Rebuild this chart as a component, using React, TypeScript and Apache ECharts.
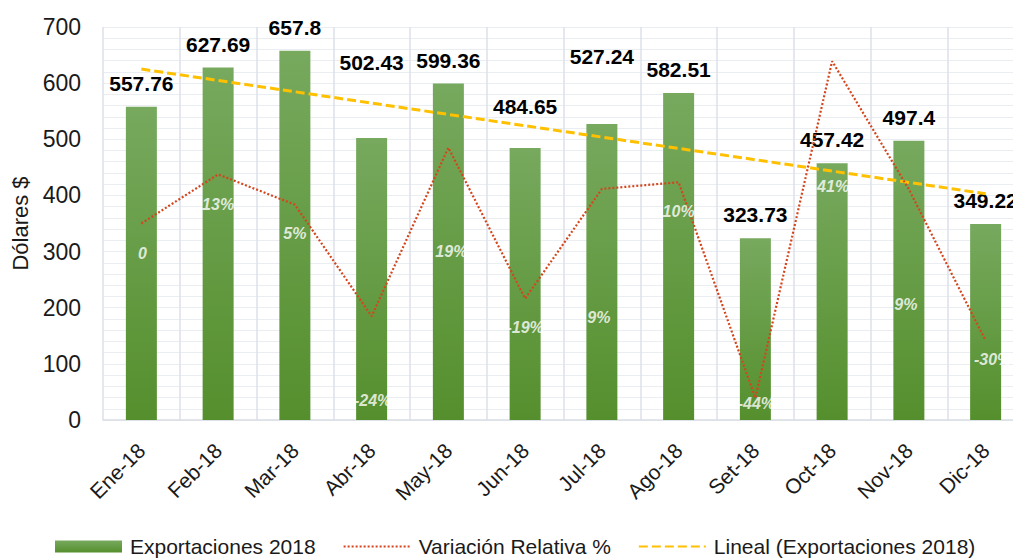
import React, { useEffect, useRef } from "react";
import * as echarts from "echarts";

const months = ["Ene-18", "Feb-18", "Mar-18", "Abr-18", "May-18", "Jun-18", "Jul-18", "Ago-18", "Set-18", "Oct-18", "Nov-18", "Dic-18"];
const exportaciones = [557.76, 627.69, 657.8, 502.43, 599.36, 484.65, 527.24, 582.51, 323.73, 457.42, 497.4, 349.22];
const variacion = [0, 12.5, 4.8, -23.6, 19.3, -19.1, 8.8, 10.5, -44.4, 41.3, 8.7, -29.8];
const variacionLabels = ["0", "13%", "5%", "-24%", "19%", "-19%", "9%", "10%", "-44%", "41%", "9%", "-30%"];
const tendencia: (number | null)[] = [625.0, null, null, null, null, null, null, null, null, null, null, 403.0];
const yTicks = [0, 700, 100];

// label placement tweaks (styling only)
const barLabelShift = [0, 0, 0, -52, 0, -18, -44, 0, 0, 0, 0, 0];
const varLabelShift: [number, number][] = [
  [1, 30], [0, 30], [0, 29], [1, 84], [3, 104], [0, 29],
  [-3, 129], [0, 29], [1, 6], [1, 125], [-3, 115], [7, 19],
];

const FONT = "'Liberation Sans', Arial, sans-serif";
const HIDDEN = { color: "rgba(0,0,0,0)", borderWidth: 0 };

export default function App() {
  const ref = useRef<HTMLDivElement>(null);
  useEffect(() => {
    if (!ref.current) return;
    const chart = echarts.init(ref.current, null, { renderer: "svg" });
    const gridColor = "#EAEDF1";
    chart.setOption({
      animation: false,
      backgroundColor: "#ffffff",
      textStyle: { fontFamily: FONT },
      grid: { left: 103, top: 27, width: 921, height: 393, containLabel: false, outerBoundsMode: "none" },
      legend: {
        left: 50,
        top: 531,
        itemWidth: 67,
        itemHeight: 12,
        itemGap: 27,
        textStyle: { fontSize: 21, color: "#1a1a1a", fontFamily: FONT, padding: [0, 0, 0, 3] },
        data: [
          { name: "Exportaciones 2018", icon: "rect" },
          { name: "Variación Relativa %", itemStyle: HIDDEN },
          { name: "Lineal (Exportaciones 2018)", itemStyle: HIDDEN },
        ],
      },
      xAxis: {
        type: "category",
        data: months,
        boundaryGap: true,
        axisTick: { show: false },
        axisLine: { lineStyle: { color: "#D9DDE4", width: 1.5 } },
        splitLine: { show: true, lineStyle: { color: "#DDE1E8", width: 1.5 } },
        axisLabel: { rotate: 45, fontSize: 21, color: "#1a1a1a", margin: 27, fontFamily: FONT },
      },
      yAxis: [
        {
          type: "value",
          min: yTicks[0],
          max: yTicks[1],
          interval: yTicks[2],
          name: "Dólares $",
          nameLocation: "middle",
          nameGap: 71,
          nameTextStyle: { fontSize: 22, color: "#1a1a1a", fontFamily: FONT },
          axisLine: { show: false },
          axisTick: { show: false },
          axisLabel: { fontSize: 23, color: "#1a1a1a", margin: 22, fontFamily: FONT },
          splitLine: { show: true, lineStyle: { color: gridColor, width: 1 } },
          minorTick: { show: false, splitNumber: 5 },
          minorSplitLine: { show: true, lineStyle: { color: gridColor, width: 1 } },
        },
        { type: "value", min: -50, max: 50, show: false },
      ],
      series: [
        {
          name: "Exportaciones 2018",
          type: "bar",
          barWidth: 31,
          z: 2,
          itemStyle: {
            color: new echarts.graphic.LinearGradient(0, 0, 0, 1, [
              { offset: 0, color: "#77A95E" },
              { offset: 1, color: "#558F2D" },
            ]),
          },
          label: {
            show: true,
            position: "top",
            distance: 13,
            fontSize: 21,
            fontWeight: "bold",
            color: "#000",
            fontFamily: FONT,
          },
          data: exportaciones.map((v, i) => ({ value: v, label: { offset: [0, barLabelShift[i]] } })),
        },
        {
          name: "Variación Relativa %",
          type: "line",
          yAxisIndex: 1,
          symbol: "none",
          z: 4,
          lineStyle: { color: "#D4451C", width: 2.2, type: [2, 2] },
          itemStyle: { color: "#D4451C" },
          data: variacion,
        },
        {
          name: "Lineal (Exportaciones 2018)",
          type: "line",
          symbol: "none",
          connectNulls: true,
          z: 3,
          lineStyle: { color: "#FFC000", width: 3, type: [9, 4] },
          itemStyle: { color: "#FFC000" },
          data: tendencia,
        },
        {
          name: "varLabels",
          type: "scatter",
          yAxisIndex: 1,
          symbolSize: 0,
          silent: true,
          z: 5,
          label: {
            show: true,
            position: "inside",
            color: "#ffffff",
            fontSize: 16,
            fontWeight: "bold",
            fontStyle: "italic",
            fontFamily: FONT,
            formatter: (p: any) => variacionLabels[p.dataIndex],
          },
          data: variacion.map((v, i) => ({ value: v, label: { offset: varLabelShift[i] } })),
        },
      ],
    });
    return () => chart.dispose();
  }, []);
  return <div ref={ref} style={{ position: "fixed", left: 0, top: 0, width: 1013, height: 559 }} />;
}
